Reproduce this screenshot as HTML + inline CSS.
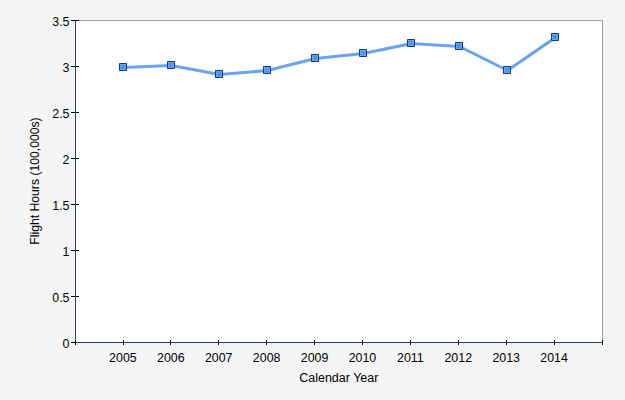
<!DOCTYPE html>
<html><head><meta charset="utf-8"><style>
html,body{margin:0;padding:0;background:#f4f4f4;width:625px;height:400px;overflow:hidden}
svg{display:block}
.t{font-family:"Liberation Sans",Arial,sans-serif;font-size:12px;fill:#000}
.xl{font-size:12.4px}
.ti{font-size:12.5px}
.tr{font-size:12.2px}
</style></head><body>
<svg width="625" height="400" viewBox="0 0 625 400" shape-rendering="crispEdges">
<rect x="75" y="20" width="527" height="322" fill="#fff"/>
<path d="M75 20.5H602.5M602.5 20V342" stroke="#a0a0a0" stroke-width="1" fill="none"/>
<path d="M71 20.5H79" stroke="#000000" stroke-width="1"/>
<path d="M71 66.5H79" stroke="#000000" stroke-width="1"/>
<path d="M71 112.5H79" stroke="#000000" stroke-width="1"/>
<path d="M71 158.5H79" stroke="#000000" stroke-width="1"/>
<path d="M71 204.5H79" stroke="#000000" stroke-width="1"/>
<path d="M71 250.5H79" stroke="#000000" stroke-width="1"/>
<path d="M71 296.5H79" stroke="#000000" stroke-width="1"/>
<path d="M71 342.5H79" stroke="#000000" stroke-width="1"/>
<path d="M75.5 20V342" stroke="#1f3f6f" stroke-width="1" fill="none"/>
<path d="M75.5 340V345" stroke="#000000" stroke-width="1"/>
<path d="M123.5 340V345" stroke="#000000" stroke-width="1"/>
<path d="M170.5 340V345" stroke="#000000" stroke-width="1"/>
<path d="M218.5 340V345" stroke="#000000" stroke-width="1"/>
<path d="M266.5 340V345" stroke="#000000" stroke-width="1"/>
<path d="M314.5 340V345" stroke="#000000" stroke-width="1"/>
<path d="M362.5 340V345" stroke="#000000" stroke-width="1"/>
<path d="M410.5 340V345" stroke="#000000" stroke-width="1"/>
<path d="M458.5 340V345" stroke="#000000" stroke-width="1"/>
<path d="M506.5 340V345" stroke="#000000" stroke-width="1"/>
<path d="M554.5 340V345" stroke="#000000" stroke-width="1"/>
<path d="M602.5 340V345" stroke="#000000" stroke-width="1"/>
<path d="M75 342.5H603" stroke="#1f3f6f" stroke-width="1" fill="none"/>
<polyline points="123.5,67.5 171.5,65.5 219.5,74.5 267.5,70.5 315.5,58.5 363.5,53.5 411.5,43.5 459.5,46.5 507.5,70.5 555.5,37.5" fill="none" stroke="#68a3f2" stroke-width="3" stroke-linejoin="round" shape-rendering="geometricPrecision"/>
<rect x="119" y="63" width="8" height="8" fill="#1b3a6b"/><rect x="120" y="64" width="6" height="6" fill="#62a2f8"/><rect x="121" y="65" width="4" height="4" fill="#5094f2"/><path d="M119 63h1v1h-1zM126 63h1v1h-1zM119 70h1v1h-1zM126 70h1v1h-1z" fill="#3d5a88"/>
<rect x="167" y="61" width="8" height="8" fill="#1b3a6b"/><rect x="168" y="62" width="6" height="6" fill="#62a2f8"/><rect x="169" y="63" width="4" height="4" fill="#5094f2"/><path d="M167 61h1v1h-1zM174 61h1v1h-1zM167 68h1v1h-1zM174 68h1v1h-1z" fill="#3d5a88"/>
<rect x="215" y="70" width="8" height="8" fill="#1b3a6b"/><rect x="216" y="71" width="6" height="6" fill="#62a2f8"/><rect x="217" y="72" width="4" height="4" fill="#5094f2"/><path d="M215 70h1v1h-1zM222 70h1v1h-1zM215 77h1v1h-1zM222 77h1v1h-1z" fill="#3d5a88"/>
<rect x="263" y="66" width="8" height="8" fill="#1b3a6b"/><rect x="264" y="67" width="6" height="6" fill="#62a2f8"/><rect x="265" y="68" width="4" height="4" fill="#5094f2"/><path d="M263 66h1v1h-1zM270 66h1v1h-1zM263 73h1v1h-1zM270 73h1v1h-1z" fill="#3d5a88"/>
<rect x="311" y="54" width="8" height="8" fill="#1b3a6b"/><rect x="312" y="55" width="6" height="6" fill="#62a2f8"/><rect x="313" y="56" width="4" height="4" fill="#5094f2"/><path d="M311 54h1v1h-1zM318 54h1v1h-1zM311 61h1v1h-1zM318 61h1v1h-1z" fill="#3d5a88"/>
<rect x="359" y="49" width="8" height="8" fill="#1b3a6b"/><rect x="360" y="50" width="6" height="6" fill="#62a2f8"/><rect x="361" y="51" width="4" height="4" fill="#5094f2"/><path d="M359 49h1v1h-1zM366 49h1v1h-1zM359 56h1v1h-1zM366 56h1v1h-1z" fill="#3d5a88"/>
<rect x="407" y="39" width="8" height="8" fill="#1b3a6b"/><rect x="408" y="40" width="6" height="6" fill="#62a2f8"/><rect x="409" y="41" width="4" height="4" fill="#5094f2"/><path d="M407 39h1v1h-1zM414 39h1v1h-1zM407 46h1v1h-1zM414 46h1v1h-1z" fill="#3d5a88"/>
<rect x="455" y="42" width="8" height="8" fill="#1b3a6b"/><rect x="456" y="43" width="6" height="6" fill="#62a2f8"/><rect x="457" y="44" width="4" height="4" fill="#5094f2"/><path d="M455 42h1v1h-1zM462 42h1v1h-1zM455 49h1v1h-1zM462 49h1v1h-1z" fill="#3d5a88"/>
<rect x="503" y="66" width="8" height="8" fill="#1b3a6b"/><rect x="504" y="67" width="6" height="6" fill="#62a2f8"/><rect x="505" y="68" width="4" height="4" fill="#5094f2"/><path d="M503 66h1v1h-1zM510 66h1v1h-1zM503 73h1v1h-1zM510 73h1v1h-1z" fill="#3d5a88"/>
<rect x="551" y="33" width="8" height="8" fill="#1b3a6b"/><rect x="552" y="34" width="6" height="6" fill="#62a2f8"/><rect x="553" y="35" width="4" height="4" fill="#5094f2"/><path d="M551 33h1v1h-1zM558 33h1v1h-1zM551 40h1v1h-1zM558 40h1v1h-1z" fill="#3d5a88"/>
<text x="69.5" y="26" text-anchor="end" class="t xl">3.5</text>
<text x="69.5" y="72" text-anchor="end" class="t xl">3</text>
<text x="69.5" y="118" text-anchor="end" class="t xl">2.5</text>
<text x="69.5" y="164" text-anchor="end" class="t xl">2</text>
<text x="69.5" y="210" text-anchor="end" class="t xl">1.5</text>
<text x="69.5" y="256" text-anchor="end" class="t xl">1</text>
<text x="69.5" y="302" text-anchor="end" class="t xl">0.5</text>
<text x="69.5" y="348" text-anchor="end" class="t xl">0</text>
<text x="122.91" y="362" text-anchor="middle" class="t xl">2005</text>
<text x="170.82" y="362" text-anchor="middle" class="t xl">2006</text>
<text x="218.73" y="362" text-anchor="middle" class="t xl">2007</text>
<text x="266.64" y="362" text-anchor="middle" class="t xl">2008</text>
<text x="314.55" y="362" text-anchor="middle" class="t xl">2009</text>
<text x="362.45" y="362" text-anchor="middle" class="t xl">2010</text>
<text x="410.36" y="362" text-anchor="middle" class="t xl">2011</text>
<text x="458.27" y="362" text-anchor="middle" class="t xl">2012</text>
<text x="506.18" y="362" text-anchor="middle" class="t xl">2013</text>
<text x="554.09" y="362" text-anchor="middle" class="t xl">2014</text>
<text x="338.8" y="382" text-anchor="middle" class="t ti">Calendar Year</text>
<text transform="translate(38.5 181) rotate(-90)" x="0" y="0" text-anchor="middle" class="t tr">Flight Hours (100,000s)</text>
</svg>
</body></html>
